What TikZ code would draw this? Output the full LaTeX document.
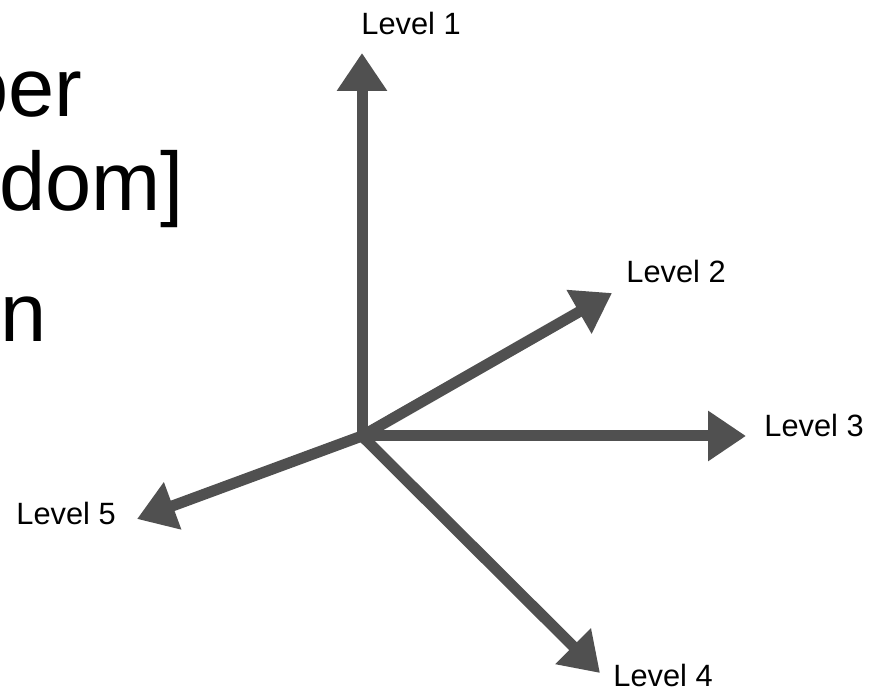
\documentclass[tikz,border=0pt]{standalone}
\usepackage{fontspec}
\setmainfont{Liberation Sans}
\usetikzlibrary{arrows.meta}
\definecolor{axisgray}{RGB}{80,80,80}
\def\LevelFont{\fontsize{15.4}{18}\selectfont}
\def\SlideFont{\fontsize{41.5}{50}\selectfont}

\begin{document}
\begin{tikzpicture}[x=0.5pt,y=-0.5pt,
    level/.style={inner sep=0pt,anchor=base west,font=\LevelFont},
    slide/.style={inner sep=0pt,anchor=base west,font=\SlideFont},
    axis/.style={draw=axisgray,line width=5.5pt,-{Triangle[length=19pt,width=24pt]}}]
    \useasboundingbox (0,0) rectangle (885,688);

    % text of the slide, cut at the left edge
    \node[slide] (line1) at (-38,117) {per};
    \node[slide] (line2) at (-1,211) {dom]};
    \node[slide] (line3) at (0,342) {n};

    \coordinate (hub) at (362,436);
    \coordinate (tip1) at (362,53);
    \coordinate (tip2) at (612,293);
    \coordinate (tip3) at (746,436);
    \coordinate (tip4) at (600,673);
    \coordinate (tip5) at (137,519);

    \draw[axis] (hub) -- (tip1);
    \draw[axis] (hub) -- (tip2);
    \draw[axis] (hub) -- (tip3);
    \draw[axis] (hub) -- (tip4);
    \draw[axis] (hub) -- (tip5);

    \node[level] (level1) at (361,35) {Level 1};
    \node[level] (level2) at (626,283) {Level 2};
    \node[level] (level3) at (764,437) {Level 3};
    \node[level] (level4) at (613,687) {Level 4};
    \node[level] (level5) at (16,525) {Level 5};
\end{tikzpicture}
\end{document}
